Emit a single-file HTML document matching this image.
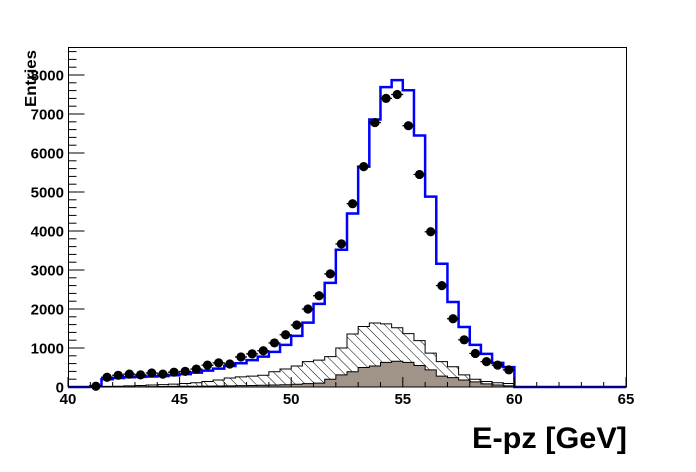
<!DOCTYPE html>
<html><head><meta charset="utf-8"><style>
html,body{margin:0;padding:0;background:#fff;}
svg{display:block;font-family:"Liberation Sans",Arial,sans-serif;font-weight:bold;}
</style></head><body>
<svg id="s" width="696" height="472" viewBox="0 0 696 472" xmlns="http://www.w3.org/2000/svg">
<defs>
<pattern id="h" patternUnits="userSpaceOnUse" width="7" height="7" patternTransform="rotate(-45)">
<rect width="7" height="7" fill="#fff"/>
<line x1="0" y1="0" x2="0" y2="7" stroke="#000" stroke-width="1"/>
</pattern>
</defs>
<g id="g"></g>
<text x="472" y="448" font-size="30" textLength="155" lengthAdjust="spacingAndGlyphs">E-pz [GeV]</text>
<text transform="translate(36,107) rotate(-90)" font-size="16" textLength="57" lengthAdjust="spacingAndGlyphs">Entries</text>
</svg>
<script>
var X=function(v){return 68+(v-40)*22.32;};
var Y=function(v){return 387-v*0.039;};
var blue={41:20,41.5:200,42:230,42.5:250,43:260,43.5:270,44:280,44.5:300,45:330,45.5:370,46:420,46.5:470,47:540,47.5:610,48:690,48.5:780,49:900,49.5:1080,50:1310,50.5:1650,51:2130,51.5:2670,52:3520,52.5:4450,53:5650,53.5:6860,54:7690,54.5:7870,55:7610,55.5:6450,56:4880,56.5:3160,57:2180,57.5:1540,58:1080,58.5:850,59:620,59.5:510};
var hat={41:5,41.5:15,42:20,42.5:30,43:40,43.5:50,44:60,44.5:75,45:90,45.5:110,46:140,46.5:180,47:230,47.5:260,48:280,48.5:300,49:390,49.5:460,50:540,50.5:650,51:690,51.5:780,52:1000,52.5:1360,53:1550,53.5:1640,54:1620,54.5:1520,55:1370,55.5:1190,56:870,56.5:650,57:520,57.5:310,58:200,58.5:140,59:110,59.5:90};
var gry={41:0,41.5:2,42:4,42.5:6,43:8,43.5:10,44:12,44.5:15,45:18,45.5:20,46:22,46.5:26,47:30,47.5:35,48:40,48.5:45,49:50,49.5:58,50:70,50.5:85,51:100,51.5:200,52:310,52.5:390,53:500,53.5:540,54:630,54.5:660,55:630,55.5:550,56:440,56.5:280,57:240,57.5:180,58:130,58.5:80,59:50,59.5:30};
var pts=[[41.25,20],[41.75,250],[42.25,300],[42.75,330],[43.25,310],[43.75,360],[44.25,330],[44.75,380],[45.25,400],[45.75,460],[46.25,560],[46.75,620],[47.25,590],[47.75,770],[48.25,850],[48.75,930],[49.25,1130],[49.75,1340],[50.25,1590],[50.75,2000],[51.25,2340],[51.75,2900],[52.25,3670],[52.75,4700],[53.25,5650],[53.75,6780],[54.25,7400],[54.75,7500],[55.25,6700],[55.75,5450],[56.25,3980],[56.75,2600],[57.25,1750],[57.75,1210],[58.25,860],[58.75,650],[59.25,560],[59.75,440]];
function step(h){var d="M"+X(41)+","+Y(0);for(var b=41;b<60;b+=0.5){d+=" L"+X(b)+","+Y(h[b])+" L"+X(b+0.5)+","+Y(h[b]);}d+=" L"+X(60)+","+Y(0);return d;}
var s="";
s+='<path d="'+step(hat)+' Z" fill="url(#h)" stroke="#000" stroke-width="1"/>';
s+='<path d="'+step(gry)+' Z" fill="#a09488" stroke="#000" stroke-width="1"/>';
var bd="M"+X(40)+","+Y(0)+" L"+X(41)+","+Y(0);for(var b=41;b<60;b+=0.5){bd+=" L"+X(b)+","+Y(blue[b])+" L"+X(b+0.5)+","+Y(blue[b]);}bd+=" L"+X(60)+","+Y(0)+" L"+X(65)+","+Y(0);
s+='<path d="'+bd+'" fill="none" stroke="#0000ff" stroke-width="2.5"/>';
pts.forEach(function(p){var x=X(p[0]),y=Y(p[1]);s+='<line x1="'+(x-6)+'" y1="'+y+'" x2="'+(x+6)+'" y2="'+y+'" stroke="#000" stroke-width="1.3"/><circle cx="'+x+'" cy="'+y+'" r="4.6" fill="#000"/>';});
s+='<rect x="68.5" y="47.5" width="558" height="339.5" fill="none" stroke="#000" stroke-width="1"/>';
for(var v=40;v<=65;v++){var x=X(v),L=(v%5==0)?10:5;s+='<line x1="'+x+'" y1="387" x2="'+x+'" y2="'+(387-L)+'" stroke="#000"/>';if(v%5==0)s+='<text x="'+x+'" y="404" font-size="15" text-anchor="middle">'+v+'</text>';}
for(var v=0;v<=8600;v+=200){var y=Y(v);if(y<47)break;var L=(v%1000==0)?16:8;s+='<line x1="68.5" y1="'+y+'" x2="'+(68.5+L)+'" y2="'+y+'" stroke="#000"/>';if(v%1000==0)s+='<text x="64" y="'+(y+5.5)+'" font-size="15" text-anchor="end">'+v+'</text>';}
document.getElementById("g").innerHTML=s;
</script>
</body></html>
